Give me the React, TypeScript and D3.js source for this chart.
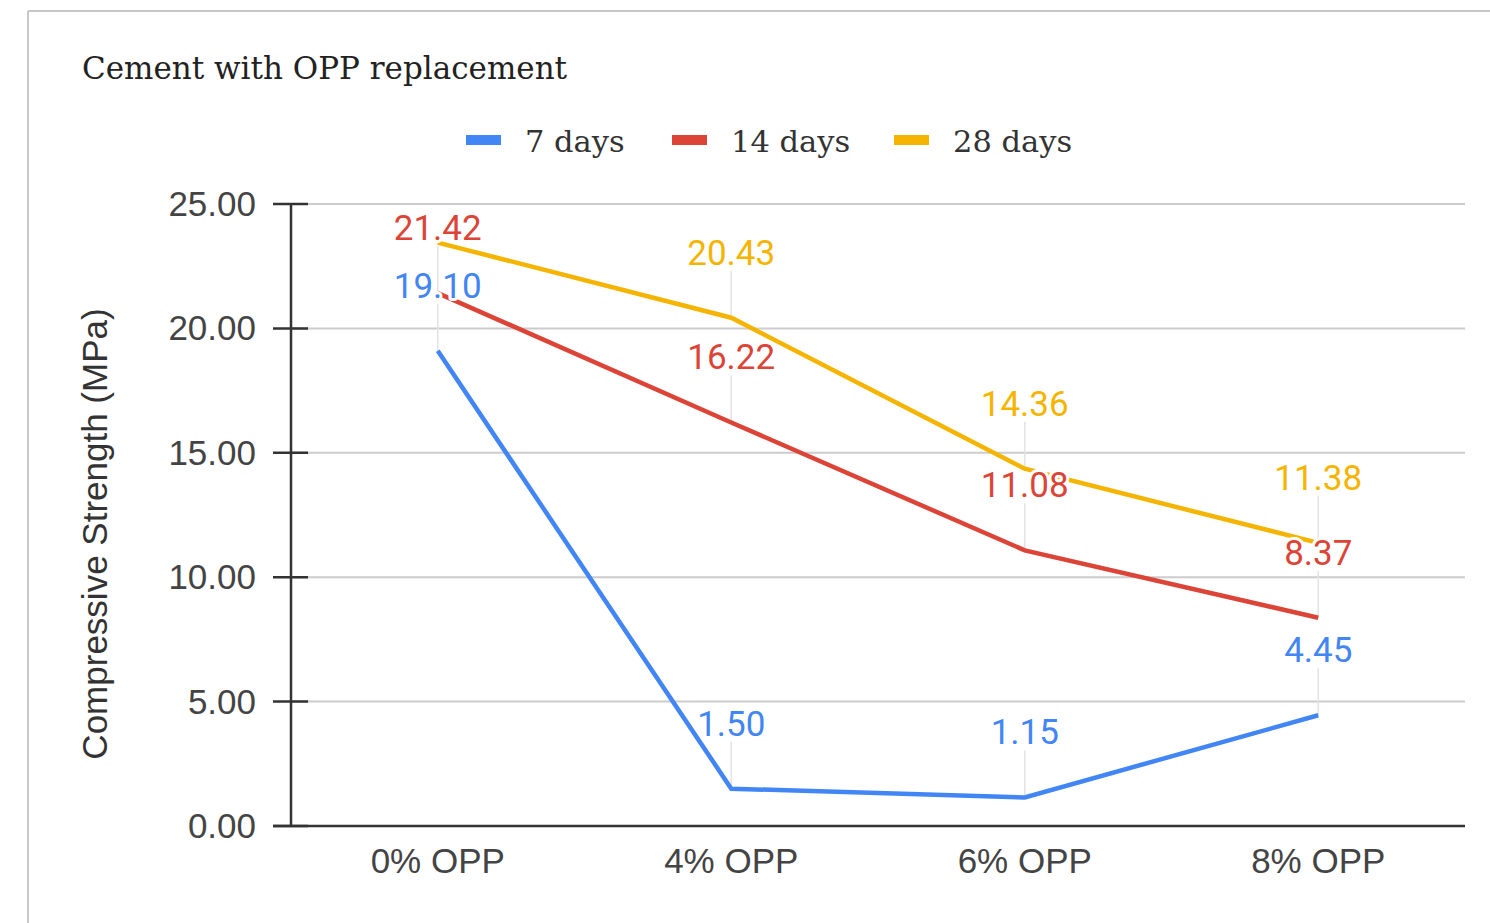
import React from "react";
import * as d3 from "d3";

// chart values
const categories = ["0% OPP", "4% OPP", "6% OPP", "8% OPP"];
const days7 = [19.1, 1.5, 1.15, 4.45];
const days14 = [21.42, 16.22, 11.08, 8.37];
const days28 = [23.45, 20.43, 14.36, 11.38];
const yTicks = [0, 5, 10, 15, 20, 25];

const seriesNames = ["7 days", "14 days", "28 days"];
const seriesColors = ["#4285F4", "#DB4437", "#F4B400"];

const W = 1490;
const H = 923;
const plot = { left: 291, right: 1465, top: 204, bottom: 826 };

const App: React.FC = () => {
  const x = d3
    .scalePoint<string>()
    .domain(categories)
    .range([plot.left, plot.right])
    .padding(0.5);
  const y = d3.scaleLinear().domain([0, 25]).range([plot.bottom, plot.top]);

  const allSeries = [days7, days14, days28].map((values, i) => ({
    name: seriesNames[i],
    color: seriesColors[i],
    points: values.map((v, j) => ({ cat: categories[j], v })),
  }));

  const line = d3
    .line<{ cat: string; v: number }>()
    .x((d) => x(d.cat) as number)
    .y((d) => y(d.v));

  const labelOffset = 53; // label baseline above its point
  // labels that would sit above the plot area are dropped, as in the original
  const labels = allSeries.flatMap((s) =>
    s.points
      .map((p) => ({ ...p, color: s.color, ly: y(p.v) - labelOffset }))
      .filter((p) => p.ly > plot.top)
  );

  const legendX = [466, 672, 894];

  return (
    <svg
      width={W}
      height={H}
      style={{ position: "absolute", left: 0, top: 0, background: "#fff" }}
    >
      <rect x={0} y={0} width={W} height={H} fill="#fff" />
      {/* frame */}
      <line x1={28} x2={W} y1={11} y2={11} stroke="#c8c8c8" strokeWidth={2} />
      <line x1={28} x2={28} y1={11} y2={H} stroke="#c8c8c8" strokeWidth={2} />

      {/* title */}
      <text
        x={82}
        y={79}
        fontFamily="'DejaVu Serif', serif"
        fontSize={31}
        fill="#222"
      >
        Cement with OPP replacement
      </text>

      {/* legend */}
      {allSeries.map((s, i) => (
        <g key={s.name} transform={`translate(${legendX[i]},0)`}>
          <rect x={0} y={135} width={35} height={10} fill={s.color} />
          <text
            x={59}
            y={152}
            fontFamily="'DejaVu Serif', serif"
            fontSize={30.5}
            fill="#333"
          >
            {s.name}
          </text>
        </g>
      ))}

      {/* gridlines */}
      {yTicks.map((t) => (
        <line
          key={t}
          x1={plot.left}
          x2={plot.right}
          y1={y(t)}
          y2={y(t)}
          stroke="#cccccc"
          strokeWidth={2}
        />
      ))}

      {/* y axis */}
      <line
        x1={plot.left}
        x2={plot.left}
        y1={plot.top}
        y2={plot.bottom}
        stroke="#333"
        strokeWidth={2.5}
      />
      {yTicks.map((t) => (
        <g key={t}>
          <line
            x1={plot.left - 18}
            x2={plot.left + 17}
            y1={y(t)}
            y2={y(t)}
            stroke="#333"
            strokeWidth={2.5}
          />
          <text
            x={256}
            y={y(t) + 12}
            textAnchor="end"
            fontFamily="'Liberation Sans', Arial, sans-serif"
            fontSize={35}
            fill="#444"
          >
            {t.toFixed(2)}
          </text>
        </g>
      ))}
      <line
        x1={plot.left - 18}
        x2={plot.right}
        y1={plot.bottom}
        y2={plot.bottom}
        stroke="#333"
        strokeWidth={2.5}
      />

      {/* x labels */}
      {categories.map((c) => (
        <text
          key={c}
          x={x(c) as number}
          y={873}
          textAnchor="middle"
          fontFamily="'Liberation Sans', Arial, sans-serif"
          fontSize={35}
          fill="#444"
        >
          {c}
        </text>
      ))}

      {/* y title */}
      <text
        transform={`translate(107,534) rotate(-90)`}
        textAnchor="middle"
        fontFamily="'Liberation Sans', Arial, sans-serif"
        fontSize={35}
        fill="#333"
      >
        Compressive Strength (MPa)
      </text>

      {/* annotation stems */}
      {labels.map((l, i) => (
        <line
          key={`stem${i}`}
          x1={x(l.cat) as number}
          x2={x(l.cat) as number}
          y1={l.ly + 6}
          y2={y(l.v)}
          stroke="#e3e3e3"
          strokeWidth={1.5}
        />
      ))}

      {/* lines */}
      {allSeries.map((s) => (
        <path
          key={s.name}
          d={line(s.points) || ""}
          fill="none"
          stroke={s.color}
          strokeWidth={4.5}
        />
      ))}

      {/* value labels */}
      {labels.map((l, i) => (
        <text
          key={`lab${i}`}
          x={x(l.cat) as number}
          y={l.ly}
          textAnchor="middle"
          fontFamily="Roboto, 'Liberation Sans', sans-serif"
          fontSize={35}
          fill={l.color}
          stroke="#fff"
          strokeWidth={6}
          strokeLinejoin="round"
          paintOrder="stroke"
        >
          {l.v.toFixed(2)}
        </text>
      ))}
    </svg>
  );
};

export default App;
